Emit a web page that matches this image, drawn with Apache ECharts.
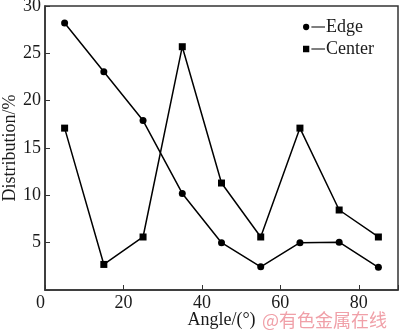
<!DOCTYPE html>
<html>
<head>
<meta charset="utf-8">
<script src="https://cdn.jsdelivr.net/npm/echarts@6/dist/echarts.min.js"></script>
<style>
  html, body { margin: 0; padding: 0; background: #fff; }
  #chart { width: 400px; height: 334px; }
</style>
</head>
<body>
<div id="chart"></div>
<script>
// Angle bins (degrees, bin centres)
const angles = [5, 15, 25, 35, 45, 55, 65, 75, 85];
// Distribution (%) at the edge and at the centre
const edgeValues = [28.2, 23.05, 17.9, 10.2, 5.0, 2.45, 5.0, 5.05, 2.4];
const centerValues = [17.1, 2.7, 5.6, 25.7, 11.3, 5.6, 17.1, 8.45, 5.6];
const xTicks = [0, 20, 40, 60, 80];
const yTicks = [5, 10, 15, 20, 25, 30];

const serif = '"Liberation Serif", "DejaVu Serif", serif';
const ink = '#1a1a1a';

const chart = echarts.init(document.getElementById('chart'));
chart.setOption({
  animation: false,
  backgroundColor: '#fff',
  grid: {
    left: 45, right: 2, top: 6, bottom: 44,
    outerBoundsMode: 'none',
    containLabel: false,
    show: true, borderColor: '#333', borderWidth: 1.5
  },
  legend: {
    left: 298, top: 13,
    orient: 'vertical',
    itemGap: 4,
    itemWidth: 22, itemHeight: 7,
    textStyle: { fontFamily: serif, fontSize: 18, color: ink, padding: [0, 0, 0, -4] },
    data: [
      { name: 'Edge', icon: 'path://M0,3.5a3,3 0 1,0 6,0a3,3 0 1,0 -6,0ZM8,3H21V4H8Z' },
      { name: 'Center', icon: 'path://M0,0.5H6V6.5H0ZM8,3H21V4H8Z' }
    ]
  },
  xAxis: {
    type: 'value',
    min: 0, max: 90, interval: 20,
    name: 'Angle/(°)',
    nameLocation: 'middle',
    nameGap: 21,
    nameMoveOverlap: false,
    nameTextStyle: { fontFamily: serif, fontSize: 18, color: ink, verticalAlign: 'top' },
    axisLine: { show: true, lineStyle: { color: '#333', width: 1.5 } },
    axisTick: { show: true, inside: true, length: 5, lineStyle: { color: '#333' } },
    axisLabel: {
      fontFamily: serif, fontSize: 18, color: ink, margin: 4,
      customValues: xTicks,
      alignMinLabel: 'right'
    },
    splitLine: { show: false }
  },
  yAxis: {
    type: 'value',
    min: 0, max: 30, interval: 5,
    name: 'Distribution/%',
    nameLocation: 'middle',
    nameGap: 26,
    nameMoveOverlap: false,
    nameRotate: 90,
    nameTextStyle: { fontFamily: serif, fontSize: 18, color: ink },
    axisLine: { show: true, lineStyle: { color: '#333', width: 1.5 } },
    axisTick: { show: true, inside: true, length: 5, lineStyle: { color: '#333' } },
    axisLabel: {
      fontFamily: serif, fontSize: 18, color: ink, margin: 4,
      formatter: v => (yTicks.indexOf(v) >= 0 ? String(v) : '')
    },
    splitLine: { show: false }
  },
  series: [
    {
      name: 'Edge', type: 'line',
      data: angles.map((a, i) => [a, edgeValues[i]]),
      symbol: 'circle', symbolSize: 7,
      lineStyle: { color: '#000', width: 1.5 },
      itemStyle: { color: '#000' }
    },
    {
      name: 'Center', type: 'line',
      data: angles.map((a, i) => [a, centerValues[i]]),
      symbol: 'rect', symbolSize: 7,
      lineStyle: { color: '#000', width: 1.5 },
      itemStyle: { color: '#000' }
    }
  ],
  graphic: [{
    type: 'text',
    left: 262, top: 311,
    style: {
      text: '@有色金属在线',
      fontFamily: '"Noto Sans CJK SC", sans-serif',
      fontSize: 18,
      fill: '#f0a0a8'
    }
  }]
});
</script>
</body>
</html>
